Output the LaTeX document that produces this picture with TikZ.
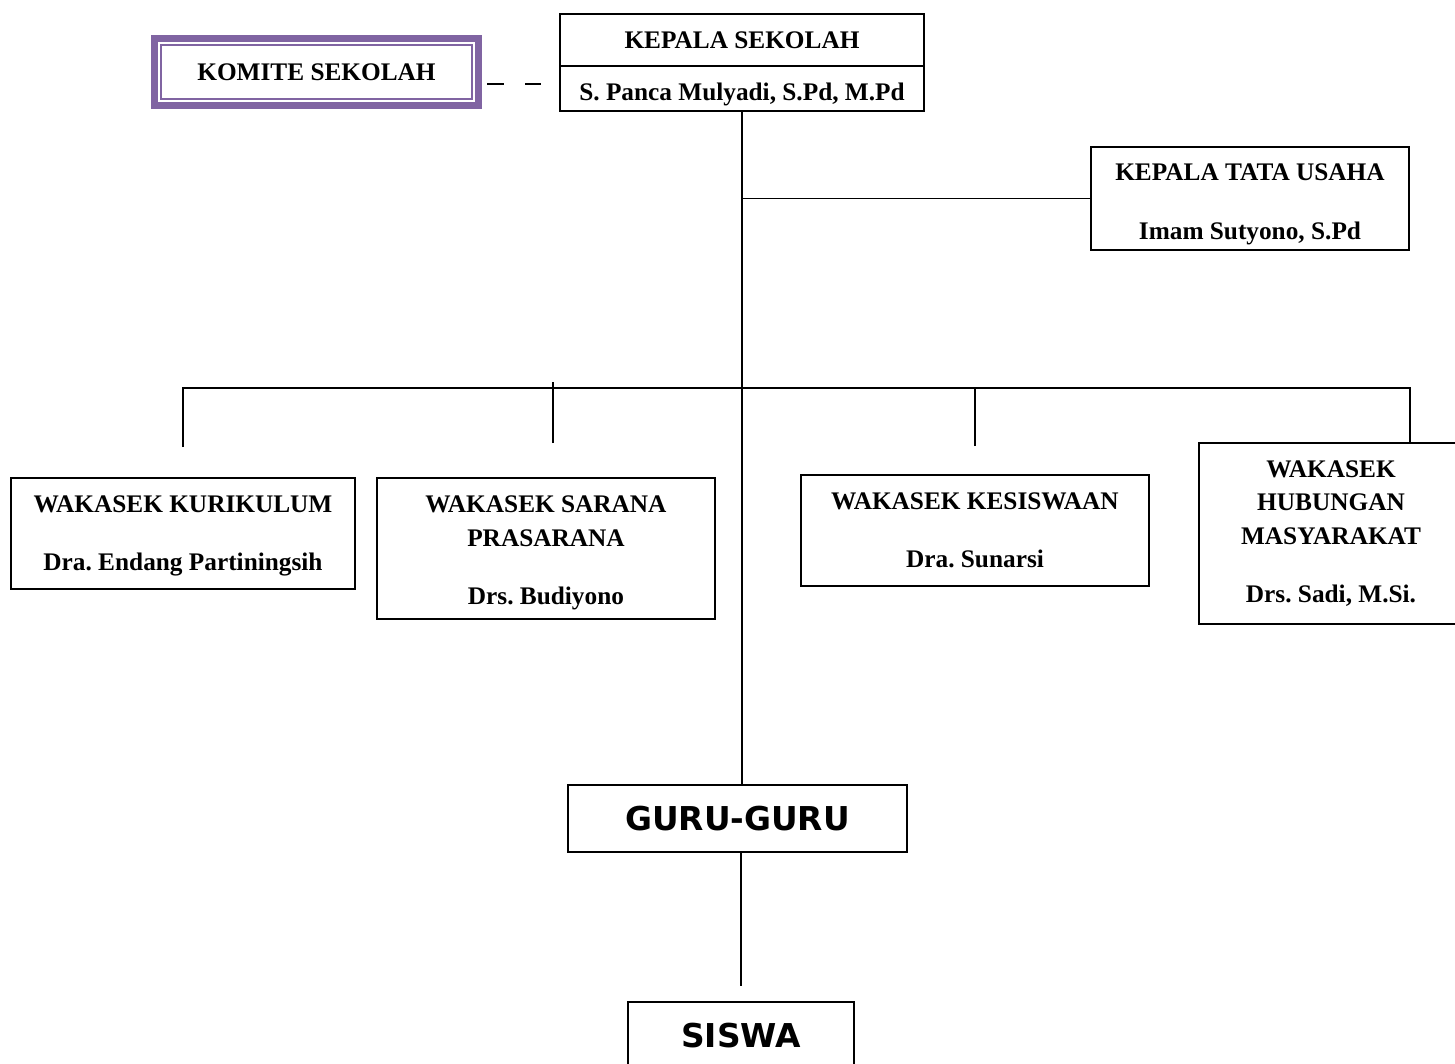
\documentclass[tikz,border=0pt]{standalone}
\usepackage{fontspec}
\setmainfont{Liberation Serif}
\newfontfamily\gurufont{DejaVu Sans}
\usetikzlibrary{calc}
\definecolor{komite}{RGB}{128,100,162}
\newlength{\dimpx}
\setlength{\dimpx}{0.02cm}
\frenchspacing

\begin{document}
\begin{tikzpicture}[x = 0.02cm, y = -0.02cm, line width = 1.1pt,
	font = {\fontsize{14.4pt}{19.2pt}\selectfont\bfseries},
	box/.style = {draw, rectangle, align = center, inner sep = 0pt},
	big/.style = {font = {\gurufont\fontsize{18.7pt}{23pt}\selectfont\bfseries}}]
\clip (0,0) rectangle (1455,1063);

\node[rectangle, draw = komite, line width = 7\dimpx, minimum width = 324\dimpx, minimum height = 67\dimpx] (KOM) at (316.5, 72) {KOMITE SEKOLAH};
\draw[komite] ([shift = {(10\dimpx,-10\dimpx)}]KOM.north west) rectangle ([shift = {(-10\dimpx,10\dimpx)}]KOM.south east);

\node[box, minimum width = 364\dimpx, minimum height = 52\dimpx] (KS) at (742, 40) {KEPALA SEKOLAH};
\node[box, text height = 13.6pt, text depth = 0pt, minimum width = 364\dimpx, minimum height = 45\dimpx] (KSN) at (742, 88.5) {S. Panca Mulyadi, S.Pd, M.Pd};

\node[box, text height = 46.1pt, text depth = 0pt, minimum width = 318\dimpx, minimum height = 103\dimpx] (TU) at (1250, 198.5) {KEPALA TATA USAHA \\[14pt] Imam Sutyono, S.Pd};

\node[box, text depth = 0.8pt, minimum width = 344\dimpx, minimum height = 111\dimpx] (KUR) at (183, 533.5) {WAKASEK KURIKULUM \\[14pt] Dra. Endang Partiningsih};
\node[box, text height = 64.2pt, text depth = 0pt, minimum width = 338\dimpx, minimum height = 141\dimpx] (SAR) at (546, 548.5) {WAKASEK SARANA \\ PRASARANA \\[14pt] Drs. Budiyono};
\node[box, minimum width = 348\dimpx, minimum height = 111\dimpx] (KES) at (975, 530.5) {WAKASEK KESISWAAN \\[14pt] Dra. Sunarsi};
\node[box, minimum width = 264\dimpx, minimum height = 181\dimpx] (HUM) at (1331, 533.5) {WAKASEK \\ HUBUNGAN \\ MASYARAKAT \\[14pt] Drs. Sadi, M.Si.};

\node[box, big, minimum width = 339\dimpx, minimum height = 67\dimpx] (GURU) at (737.5, 818.5) {GURU-GURU};
\node[box, big, minimum width = 226\dimpx, minimum height = 68\dimpx] (SIS) at (741, 1036) {SISWA};

\coordinate (BUS) at (741, 388);
\coordinate (KOM-dash) at ([xshift = 5\dimpx, yshift = -12\dimpx]KOM.east);

\draw[dash pattern = on 17\dimpx off 21\dimpx, shorten > = 18\dimpx] (KOM-dash) -- (KOM-dash -| KSN.west);

\draw (KSN.south) -- (KSN.south |- GURU.north);
\draw (TU.west) -- (TU.west -| KSN.south);

\draw ([yshift = 30\dimpx]KUR.north) |- (BUS) -| (HUM.north -| TU.east);
\draw ([xshift = 7\dimpx, yshift = 34\dimpx]SAR.north) -- ([xshift = 7\dimpx, yshift = 95\dimpx]SAR.north);
\draw ([yshift = 28\dimpx]KES.north) -- (KES.north |- BUS);

\draw (GURU.south -| SIS.north) -- ([yshift = 15\dimpx]SIS.north);
\end{tikzpicture}
\end{document}
